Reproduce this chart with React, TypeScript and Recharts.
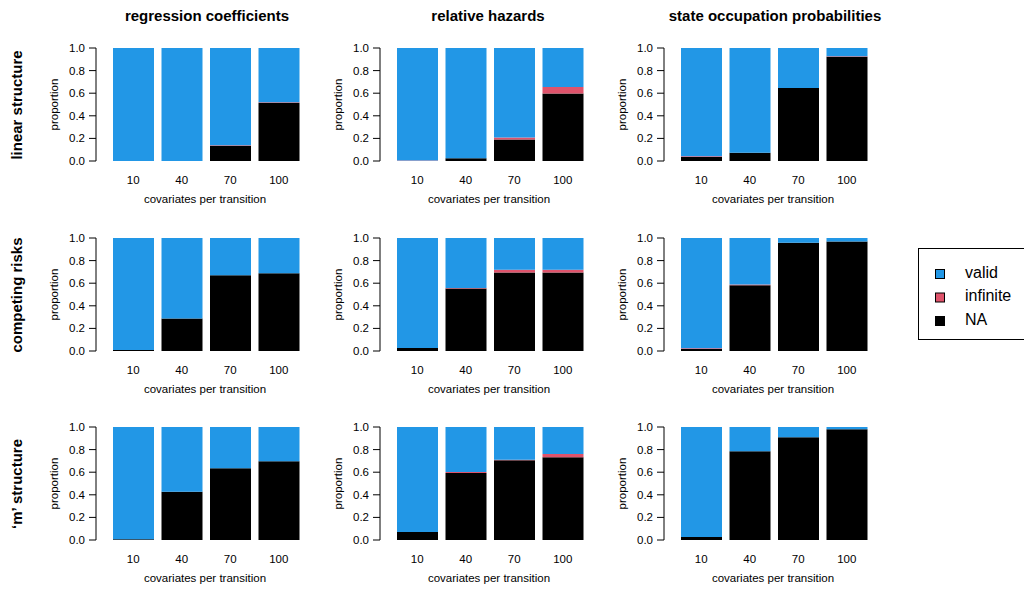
import { BarChart, Bar, XAxis, YAxis } from "recharts"

const covariates = ["10", "40", "70", "100"]

const structures = ["linear structure", "competing risks", "\u2018m\u2019 structure"]
const estimands = ["regression coefficients", "relative hazards", "state occupation probabilities"]

// linear structure
const linRegNA = [0, 0, 0.135, 0.515]
const linRegInf = [0, 0, 0.004, 0.005]
const linRegValid = [1, 1, 0.861, 0.48]
const linHazNA = [0, 0.024, 0.19, 0.597]
const linHazInf = [0.005, 0, 0.018, 0.058]
const linHazValid = [0.995, 0.976, 0.792, 0.345]
const linSopNA = [0.036, 0.074, 0.647, 0.922]
const linSopInf = [0.006, 0, 0, 0.005]
const linSopValid = [0.958, 0.926, 0.353, 0.073]

// competing risks
const crRegNA = [0.008, 0.288, 0.67, 0.688]
const crRegInf = [0, 0, 0, 0]
const crRegValid = [0.992, 0.712, 0.33, 0.312]
const crHazNA = [0.026, 0.553, 0.694, 0.694]
const crHazInf = [0, 0.005, 0.024, 0.024]
const crHazValid = [0.974, 0.442, 0.282, 0.282]
const crSopNA = [0.018, 0.582, 0.958, 0.968]
const crSopInf = [0.007, 0.007, 0, 0]
const crSopValid = [0.975, 0.411, 0.042, 0.032]

// 'm' structure
const mRegNA = [0.006, 0.426, 0.635, 0.697]
const mRegInf = [0, 0, 0, 0]
const mRegValid = [0.994, 0.574, 0.365, 0.303]
const mHazNA = [0.07, 0.594, 0.706, 0.732]
const mHazInf = [0, 0.008, 0.004, 0.03]
const mHazValid = [0.93, 0.398, 0.29, 0.238]
const mSopNA = [0.026, 0.785, 0.91, 0.98]
const mSopInf = [0, 0, 0, 0]
const mSopValid = [0.974, 0.215, 0.09, 0.02]

const yTicks = [0, 0.2, 0.4, 0.6, 0.8, 1]

const COLORS = { valid: "#2297E6", infinite: "#DF536B", na: "#000000" }
const FONT = "'Liberation Sans', Arial, Helvetica, sans-serif"

const build = (na: number[], inf: number[], valid: number[]) =>
  covariates.map((c, i) => ({ cov: c, na: na[i], inf: inf[i], valid: valid[i] }))

const panels = [
  [build(linRegNA, linRegInf, linRegValid), build(linHazNA, linHazInf, linHazValid), build(linSopNA, linSopInf, linSopValid)],
  [build(crRegNA, crRegInf, crRegValid), build(crHazNA, crHazInf, crHazValid), build(crSopNA, crSopInf, crSopValid)],
  [build(mRegNA, mRegInf, mRegValid), build(mHazNA, mHazInf, mHazValid), build(mSopNA, mSopInf, mSopValid)],
]

const colLeft = [0, 284, 568]
const rowTop = [0, 190, 379]
const titleX = [207, 488, 775]

function Panel({ data, left, top }: { data: any[]; left: number; top: number }) {
  return (
    <div style={{ position: "absolute", left, top }}>
      <BarChart width={320} height={210} data={data} margin={{ top: 48, right: 6, bottom: 4, left: 56 }}>
        <XAxis
          dataKey="cov"
          axisLine={false}
          tickLine={false}
          padding={{ left: 13, right: 11 }}
          height={45}
          tick={{ fill: "#000", fontSize: 11.5 }}
          dy={7}
          label={{ value: "covariates per transition", position: "insideBottom", offset: 3, fill: "#000", fontSize: 11.5 }}
        />
        <YAxis
          domain={[0, 1]}
          ticks={yTicks}
          tickFormatter={(v: number) => v.toFixed(1)}
          width={40}
          axisLine={{ stroke: "#000" }}
          tickLine={{ stroke: "#000" }}
          tickSize={7}
          tickMargin={4}
          tick={{ fill: "#000", fontSize: 11.5 }}
          label={{
            value: "proportion",
            angle: -90,
            position: "insideLeft",
            offset: -2,
            fill: "#000",
            fontSize: 11.5,
            style: { textAnchor: "middle" },
          }}
        />
        <Bar dataKey="na" stackId="s" fill={COLORS.na} barSize={41} isAnimationActive={false} />
        <Bar dataKey="inf" stackId="s" fill={COLORS.infinite} barSize={41} isAnimationActive={false} />
        <Bar dataKey="valid" stackId="s" fill={COLORS.valid} barSize={41} isAnimationActive={false} />
      </BarChart>
    </div>
  )
}

const legendItems = [
  { name: "valid", color: COLORS.valid },
  { name: "infinite", color: COLORS.infinite },
  { name: "NA", color: COLORS.na },
]

export default function App() {
  return (
    <div style={{ position: "absolute", left: 0, top: 0, width: 1024, height: 590, background: "#fff", fontFamily: FONT, overflow: "hidden" }}>
      {panels.map((row, r) =>
        row.map((data, c) => <Panel key={`${r}-${c}`} data={data} left={colLeft[c]} top={rowTop[r]} />)
      )}
      <svg width={1024} height={590} style={{ position: "absolute", left: 0, top: 0, pointerEvents: "none" }}>
        {estimands.map((t, i) => (
          <text key={t} x={titleX[i]} y={21} textAnchor="middle" fontWeight="bold" fontSize={15} fill="#000">
            {t}
          </text>
        ))}
        {structures.map((s, i) => (
          <text
            key={s}
            x={22}
            y={rowTop[i] + 105}
            textAnchor="middle"
            fontWeight="bold"
            fontSize={15}
            fill="#000"
            transform={`rotate(-90, 22, ${rowTop[i] + 105})`}
          >
            {s}
          </text>
        ))}
        <rect x={918.5} y={248.5} width={120} height={91} fill="#fff" stroke="#000" />
        {legendItems.map((it, i) => (
          <g key={it.name}>
            <rect x={935.5} y={269.5 + i * 23.5} width={9} height={9} fill={it.color} stroke="#000" />
            <text x={965} y={277.5 + i * 23.5} fontSize={16} fill="#000">
              {it.name}
            </text>
          </g>
        ))}
      </svg>
    </div>
  )
}
